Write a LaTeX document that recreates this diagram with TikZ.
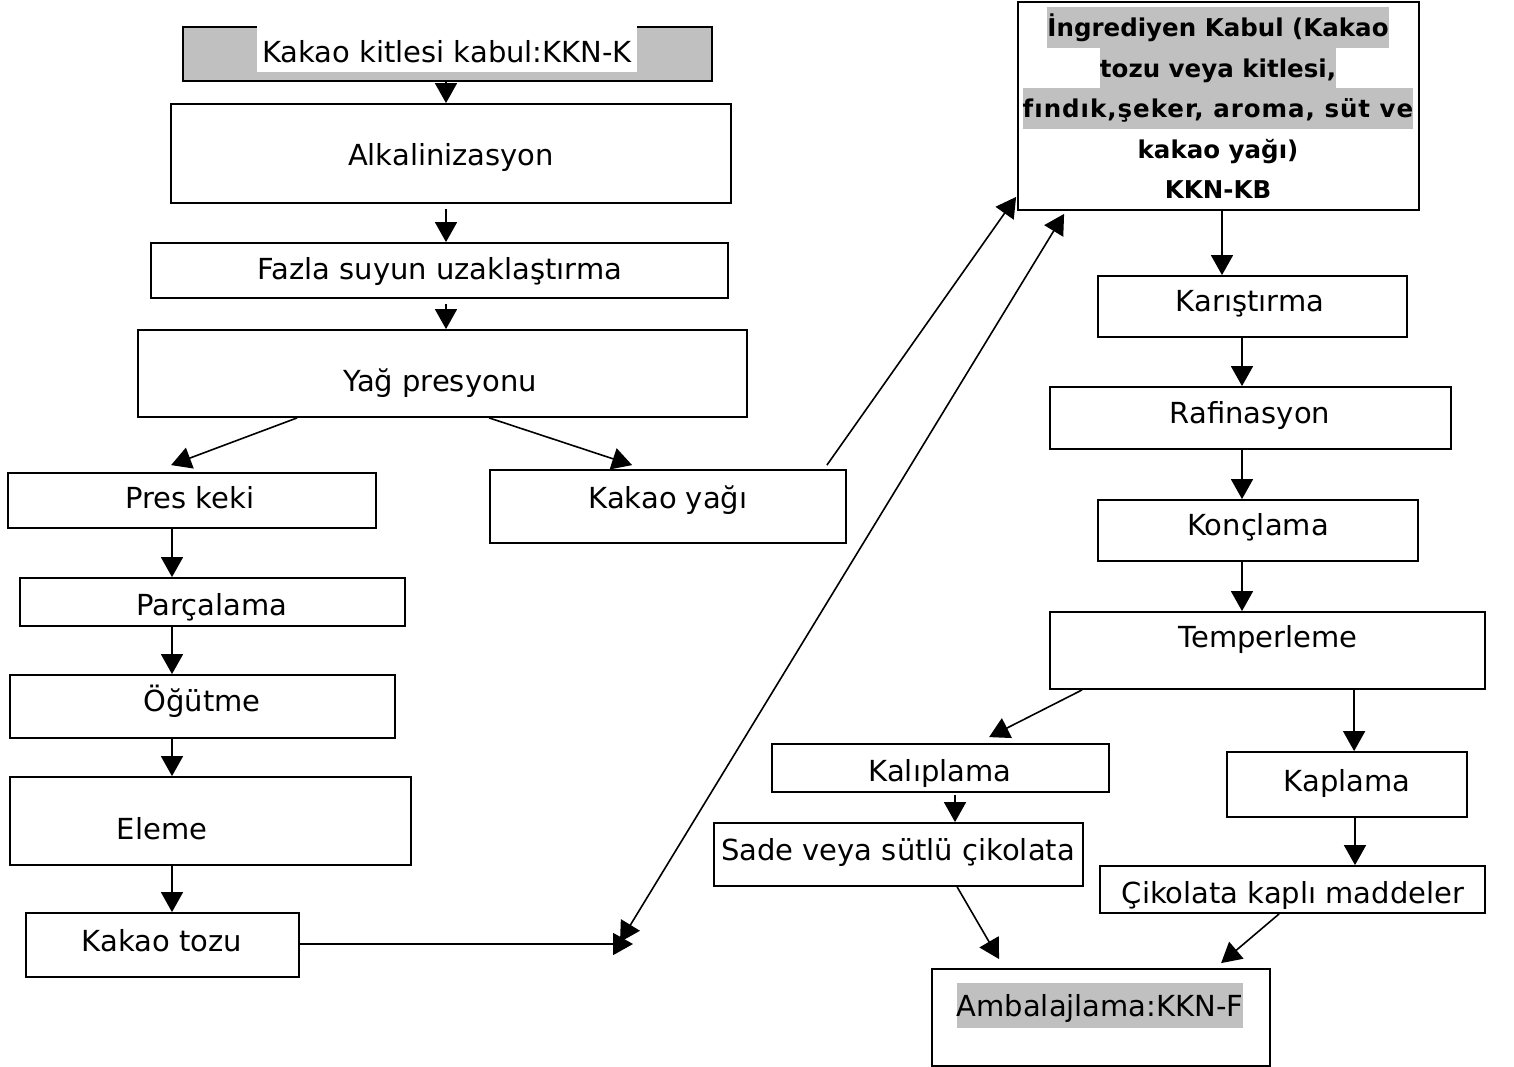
\documentclass[tikz,border=0pt]{standalone}
\usepackage{fontspec}
\setmainfont{DejaVu Sans}
\usetikzlibrary{fit,arrows.meta}
\definecolor{hl}{HTML}{C0C0C0}
\setlength{\fboxsep}{0pt}
% framed step: name, x1, y1, x2, y2
\newcommand\stepframe[6][]{\node[box,#1,fit={(#3,#4) (#5,#6)}] (#2) {};}
% strut for the shaded lines of the ingredient box
\newcommand\bandstrut{\rule[-11pt]{0pt}{40.5pt}}
\begin{document}
\begin{tikzpicture}[x=1pt,y=-1pt,
  box/.style={draw=black,line width=1.8pt,inner sep=0pt},
  lbl/.style={anchor=base,inner sep=0pt,font=\fontsize{29}{34}\selectfont},
  arr/.style={line width=1.6pt,-{Triangle[length=20pt,width=22pt]}},
  dbl/.style={line width=1.6pt,{Triangle[length=20pt,width=22pt]}-{Triangle[length=20pt,width=22pt]}}]
\fill[white] (0,0) rectangle (1514,1067);
\useasboundingbox (0,0) rectangle (1514,1067);

% left column: cocoa mass to cocoa powder
\stepframe[fill=hl]{kk}{183}{27}{712}{81}
\node[lbl] (kk-t) at (447,62.5) {\colorbox{white}{\rule[-10pt]{0pt}{47pt}\,Kakao kitlesi kabul:KKN-K\,}};
\stepframe{alk}{171}{104}{731}{203}
\node[lbl] (alk-t) at (451,166) {Alkalinizasyon};
\stepframe{faz}{151}{243}{728}{298}
\node[lbl] (faz-t) at (440,279) {Fazla suyun uzaklaştırma};
\stepframe{yag}{138}{330}{747}{417}
\node[lbl] (yag-t) at (440,391) {Yağ presyonu};
\stepframe{pres}{8}{473}{376}{528}
\node[lbl] (pres-t) at (190,508) {Pres keki};
\stepframe{kyag}{490}{470}{846}{543}
\node[lbl] (kyag-t) at (668,508) {Kakao yağı};
\stepframe{parc}{20}{578}{405}{626}
\node[lbl] (parc-t) at (212,615) {Parçalama};
\stepframe{ogut}{10}{675}{395}{738}
\node[lbl] (ogut-t) at (202,711) {Öğütme};
\stepframe{elem}{10}{777}{411}{865}
\node[lbl] (elem-t) at (162,839) {Eleme};
\stepframe{ktoz}{26}{913}{299}{977}
\node[lbl] (ktoz-t) at (162,951) {Kakao tozu};

% right column: chocolate line
\stepframe{ingr}{1018}{2}{1419}{210}
\node[anchor=north,inner sep=0pt,align=center,
      font=\fontsize{24.5}{40.5}\bfseries\selectfont] (ingr-t) at (1218,7)
  {\colorbox{hl}{\bandstrut İngrediyen Kabul (Kakao}\\
   \colorbox{hl}{\bandstrut tozu veya kitlesi,}\\
   \colorbox{hl}{\bandstrut\addfontfeature{LetterSpace=4}fındık,şeker, aroma, süt ve}\\
   \bandstrut kakao yağı)\\
   \bandstrut KKN-KB};
\stepframe{kar}{1098}{276}{1407}{337}
\node[lbl] (kar-t) at (1250,311) {Karıştırma};
\stepframe{raf}{1050}{387}{1451}{449}
\node[lbl] (raf-t) at (1250,423) {Rafinasyon};
\stepframe{konc}{1098}{500}{1418}{561}
\node[lbl] (konc-t) at (1258,535) {Konçlama};
\stepframe{temp}{1050}{612}{1485}{689}
\node[lbl] (temp-t) at (1268,647) {Temperleme};
\stepframe{kalip}{772}{744}{1109}{792}
\node[lbl] (kalip-t) at (940,781) {Kalıplama};
\stepframe{kapl}{1227}{752}{1467}{817}
\node[lbl] (kapl-t) at (1347,791) {Kaplama};
\stepframe{sade}{714}{823}{1083}{886}
\node[lbl] (sade-t) at (898,860) {Sade veya sütlü çikolata};
\stepframe{ckap}{1100}{866}{1485}{913}
\node[lbl] (ckap-t) at (1293,903) {Çikolata kaplı maddeler};
\stepframe{amb}{932}{969}{1270}{1066}
\node[lbl] (amb-t) at (1100,1016.5) {\colorbox{hl}{\rule[-11.5pt]{0pt}{45pt}Ambalajlama:KKN-F}};

% join points of the cocoa powder line
\coordinate (jn) at (633,944);
\coordinate (jd) at (620,942);

% connectors, left column
\draw[arr] ([xshift=-1.5]kk.south) -- ([xshift=-5]alk.north);
\draw[arr] ([xshift=-5,yshift=-5]alk.south) -- ([xshift=6.5]faz.north);
\draw[arr] ([xshift=6.5,yshift=-5]faz.south) -- ([xshift=3.5]yag.north);
\draw[arr] ([xshift=160]yag.south west) -- ([xshift=164,yshift=7]pres.north west);
\draw[arr] ([xshift=352]yag.south west) -- ([xshift=143,yshift=4]kyag.north west);
\draw[arr] ([xshift=-20,yshift=4]kyag.north east) -- ([xshift=-1,yshift=14]ingr.south west);
\draw[arr] ([xshift=-20]pres.south) -- ([xshift=-40.5]parc.north);
\draw[arr] ([xshift=-40.5]parc.south) -- ([xshift=-30.5]ogut.north);
\draw[arr] ([xshift=-30.5]ogut.south) -- ([xshift=-38.5]elem.north);
\draw[arr] ([xshift=-38.5]elem.south) -- ([xshift=9.5]ktoz.north);
\draw[arr] (ktoz.east |- jn) -- (jn);
\draw[dbl] (jd) -- ([xshift=47,yshift=-3]ingr.south west);

% connectors, right column
\draw[arr] ([xshift=3.5]ingr.south) -- ([xshift=-30.5]kar.north);
\draw[arr] ([xshift=-10.5]kar.south) -- ([xshift=-8.5]raf.north);
\draw[arr] ([xshift=-8.5]raf.south) -- ([xshift=-16]konc.north);
\draw[arr] ([xshift=-16]konc.south) -- ([xshift=-25.5]temp.north);
\draw[arr] ([xshift=33]temp.south west) -- ([xshift=218,yshift=6]kalip.north west);
\draw[arr] ([xshift=305]temp.south west) -- ([xshift=128]kapl.north west);
\draw[arr] ([xshift=14.5,yshift=-2]kalip.south) -- ([xshift=56.5]sade.north);
\draw[arr] ([xshift=8]kapl.south) -- ([xshift=62.5]ckap.north);
\draw[arr] ([xshift=244]sade.south west) -- ([xshift=68,yshift=9]amb.north west);
\draw[arr] ([xshift=180]ckap.south west) -- ([xshift=290,yshift=5]amb.north west);
\end{tikzpicture}
\end{document}
